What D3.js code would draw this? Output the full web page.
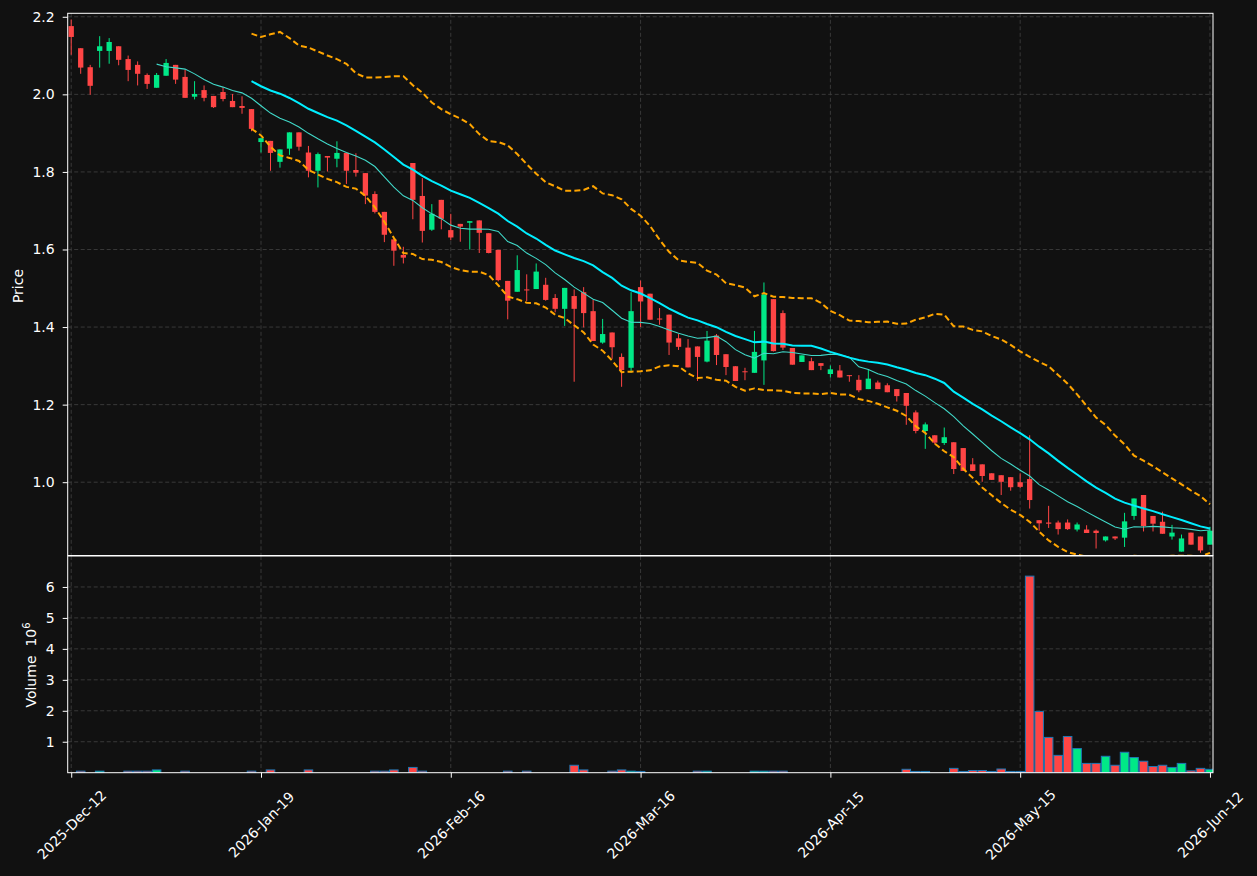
<!DOCTYPE html>
<html><head><meta charset="utf-8">
<script src="https://cdn.jsdelivr.net/npm/d3@7"></script>
<style>
html,body{margin:0;padding:0;background:#111111;}
svg{display:block;}
text{font-family:"DejaVu Sans",sans-serif;}
</style></head><body>
<svg id="chart" width="1257" height="876"></svg>
<script>
// ---- data ----
const openP = [2.176,2.119,2.070,2.112,2.112,2.124,2.091,2.076,2.050,2.017,2.048,2.076,2.045,1.994,2.011,1.996,2.006,1.983,1.970,1.962,
1.877,1.880,1.826,1.860,1.902,1.850,1.803,1.841,1.834,1.849,1.805,1.797,1.743,1.697,1.626,1.586,1.823,1.738,1.651,1.728,
1.650,1.666,1.669,1.675,1.642,1.599,1.519,1.491,1.497,1.498,1.509,1.475,1.447,1.480,1.490,1.441,1.360,1.386,1.323,1.295,
1.503,1.486,1.422,1.432,1.371,1.347,1.350,1.311,1.378,1.330,1.299,1.286,1.282,1.314,1.472,1.436,1.346,1.310,1.312,1.307,
1.279,1.288,1.276,1.264,1.240,1.257,1.250,1.240,1.230,1.180,1.132,1.121,1.101,1.103,1.088,1.046,1.046,1.023,1.018,1.013,
1.000,1.008,0.902,0.896,0.896,0.896,0.878,0.878,0.875,0.850,0.860,0.857,0.913,0.967,0.913,0.898,0.860,0.821,0.870,0.860,0.839];
const highP = [2.193,2.119,2.076,2.150,2.145,2.124,2.100,2.085,2.054,2.055,2.091,2.076,2.064,2.034,2.023,1.996,2.018,2.001,1.995,1.962,
1.887,1.880,1.858,1.902,1.902,1.867,1.850,1.841,1.879,1.849,1.848,1.797,1.750,1.697,1.626,1.607,1.823,1.784,1.717,1.728,
1.692,1.666,1.673,1.675,1.642,1.599,1.519,1.585,1.536,1.564,1.527,1.485,1.501,1.497,1.503,1.470,1.421,1.386,1.332,1.490,
1.520,1.486,1.449,1.432,1.382,1.369,1.350,1.390,1.382,1.330,1.299,1.295,1.390,1.515,1.472,1.443,1.346,1.327,1.321,1.307,
1.301,1.302,1.276,1.276,1.291,1.262,1.255,1.240,1.230,1.185,1.154,1.121,1.141,1.103,1.088,1.062,1.046,1.023,1.018,1.013,
1.023,1.121,0.902,0.939,0.901,0.904,0.896,0.889,0.878,0.860,0.860,0.921,0.958,0.967,0.913,0.924,0.890,0.865,0.870,0.860,0.885];
const lowP = [2.102,2.053,1.999,2.069,2.079,2.075,2.034,2.023,2.014,2.017,2.048,2.027,1.991,1.987,1.982,1.965,1.982,1.967,1.950,1.905,
1.850,1.803,1.811,1.844,1.855,1.786,1.760,1.801,1.812,1.769,1.788,1.717,1.693,1.619,1.558,1.564,1.678,1.618,1.648,1.652,
1.624,1.620,1.600,1.591,1.590,1.518,1.420,1.491,1.467,1.498,1.468,1.438,1.403,1.259,1.399,1.364,1.357,1.318,1.246,1.282,
1.400,1.419,1.406,1.328,1.341,1.296,1.261,1.309,1.302,1.276,1.261,1.263,1.282,1.251,1.337,1.341,1.303,1.310,1.289,1.289,
1.270,1.270,1.259,1.232,1.240,1.240,1.232,1.208,1.148,1.126,1.086,1.098,1.096,1.021,1.029,1.029,1.001,1.006,0.967,0.978,
0.985,0.932,0.875,0.882,0.865,0.877,0.873,0.869,0.829,0.847,0.851,0.833,0.903,0.873,0.873,0.867,0.852,0.821,0.839,0.818,0.839];
const closeP = [2.148,2.069,2.022,2.124,2.135,2.089,2.063,2.053,2.027,2.050,2.081,2.038,1.991,2.001,1.991,1.967,1.988,1.967,1.965,1.911,
1.887,1.849,1.858,1.902,1.865,1.803,1.846,1.837,1.849,1.803,1.798,1.739,1.697,1.638,1.597,1.579,1.728,1.648,1.692,1.679,
1.631,1.659,1.673,1.643,1.591,1.521,1.468,1.547,1.495,1.543,1.470,1.447,1.501,1.447,1.436,1.364,1.382,1.348,1.289,1.441,
1.466,1.419,1.420,1.360,1.349,1.296,1.323,1.365,1.328,1.297,1.261,1.285,1.336,1.484,1.338,1.347,1.303,1.327,1.289,1.300,
1.291,1.270,1.274,1.237,1.267,1.240,1.232,1.222,1.197,1.132,1.149,1.102,1.116,1.034,1.029,1.029,1.016,1.006,1.001,0.987,
0.988,0.954,0.894,0.893,0.879,0.879,0.891,0.869,0.869,0.860,0.855,0.899,0.958,0.887,0.893,0.867,0.870,0.855,0.839,0.824,0.875];
// volume in millions (null = no bar)
const volumeM = [0,0.05,0,0.05,0,0,0.05,0.05,0.05,0.09,0,null,0.05,0,0,0,0,0,0,0.05,
0,0.09,0,0,0,0.09,0,0,0,0,null,0,0.05,0.05,0.09,0,0.17,0.05,0,0,
0,null,0,0,0,0,0.05,0,0.05,0,0,0,0,0.24,0.09,0,0,0.05,0.09,0.05,
0.04,null,null,0,0,0,0.05,0.05,0,0,0,null,0.05,0.05,0.05,0.05,null,0,0,null,
0,0,0,0,0,0,0,0,0.11,0.04,0.04,0,0,0.14,0.04,0.07,0.07,0.04,0.12,0.04,
0.04,6.35,1.98,1.14,0.56,1.17,0.78,0.30,0.30,0.53,0.24,0.66,0.49,0.37,0.20,0.24,0.17,0.30,0.06,0.14,0.11];
const xTickIdx = [0,20,40,60,80,100,120];
const xTickLabels = ["2025-Dec-12","2026-Jan-19","2026-Feb-16","2026-Mar-16","2026-Apr-15","2026-May-15","2026-Jun-12"];
const priceTicks = [1.0,1.2,1.4,1.6,1.8,2.0,2.2];
const volTicks = [1,2,3,4,5,6];
const maShort = 10, maLong = 20;

// ---- layout ----
const W=1257,H=876;
const L=67.7, R=1213, pTop=13.3, pBot=555.5, vTop=556, vBot=772.7;
const upCol='#00e887', dnCol='#ff4545', edgeCol='#1f77b4';
const gridCol='#3d3d3d';
const svg=d3.select('#chart');
svg.append('rect').attr('width',W).attr('height',H).attr('fill','#111111');

const idx=d3.range(closeP.length);
const x=d3.scaleLinear().domain([-0.37,120.32]).range([L,R]);
const y=d3.scaleLinear().domain([0.811,2.209]).range([pBot,pTop]);
const yv=d3.scaleLinear().domain([0,7]).range([vBot,vTop]);
const step=x(1)-x(0);

const defs=svg.append('defs');
defs.append('clipPath').attr('id','cp').append('rect').attr('x',L).attr('y',pTop).attr('width',R-L).attr('height',pBot-pTop);
defs.append('clipPath').attr('id','cv').append('rect').attr('x',L).attr('y',vTop).attr('width',R-L).attr('height',vBot-vTop);

// grids
function grid(g, yScale, ticks, top, bot){
  g.selectAll('line.hg').data(ticks).join('line').attr('class','hg')
   .attr('x1',L).attr('x2',R).attr('y1',d=>yScale(d)).attr('y2',d=>yScale(d))
   .attr('stroke',gridCol).attr('stroke-width',0.9).attr('stroke-dasharray','4,2.5');
  g.selectAll('line.vg').data(xTickIdx).join('line').attr('class','vg')
   .attr('x1',d=>x(d)).attr('x2',d=>x(d)).attr('y1',top).attr('y2',bot)
   .attr('stroke',gridCol).attr('stroke-width',0.9).attr('stroke-dasharray','4,2.5');
}
grid(svg.append('g'), y, priceTicks, pTop, pBot);
grid(svg.append('g'), yv, volTicks, vTop, vBot);

// candles
const isUp=i=>closeP[i]>=openP[i];
const cg=svg.append('g').attr('clip-path','url(#cp)');
cg.selectAll('line').data(idx).join('line')
  .attr('x1',i=>x(i)).attr('x2',i=>x(i))
  .attr('y1',i=>y(highP[i])).attr('y2',i=>y(lowP[i]))
  .attr('stroke',i=>isUp(i)?upCol:dnCol).attr('stroke-width',1);
const bw=step*0.56;
cg.selectAll('rect').data(idx).join('rect')
  .attr('x',i=>x(i)-bw/2).attr('width',bw)
  .attr('y',i=>y(Math.max(openP[i],closeP[i])))
  .attr('height',i=>Math.max(1,Math.abs(y(openP[i])-y(closeP[i]))))
  .attr('fill',i=>isUp(i)?upCol:dnCol);

// moving averages & bands
function sma(n){return idx.map(i=>i<n-1?null:d3.mean(closeP.slice(i-n+1,i+1)));}
function sdev(n){return idx.map(i=>{if(i<n-1)return null;const s=closeP.slice(i-n+1,i+1);const m=d3.mean(s);return Math.sqrt(d3.mean(s,v=>(v-m)*(v-m)));});}
const ma10=sma(maShort), ma20=sma(maLong), sd20=sdev(maLong);
const upper=idx.map(i=>ma20[i]==null?null:ma20[i]+2*sd20[i]);
const lower=idx.map(i=>ma20[i]==null?null:ma20[i]-2*sd20[i]);
const lineOf=arr=>d3.line().defined(i=>arr[i]!=null).x(i=>x(i)).y(i=>y(arr[i]))(idx);
const lg=svg.append('g').attr('clip-path','url(#cp)');
lg.append('path').attr('d',lineOf(upper)).attr('fill','none').attr('stroke','#ffa500').attr('stroke-width',2).attr('stroke-dasharray','6,3.2');
lg.append('path').attr('d',lineOf(lower)).attr('fill','none').attr('stroke','#ffa500').attr('stroke-width',2).attr('stroke-dasharray','6,3.2');
lg.append('path').attr('d',lineOf(ma10)).attr('fill','none').attr('stroke','#40d8c8').attr('stroke-width',1.1);
lg.append('path').attr('d',lineOf(ma20)).attr('fill','none').attr('stroke','#00eeff').attr('stroke-width',2);

// volume
const vg=svg.append('g').attr('clip-path','url(#cv)');
const vIdx=idx.filter(i=>volumeM[i]!=null);
const vw=step*0.9;
vg.selectAll('rect').data(vIdx).join('rect')
  .attr('x',i=>x(i)-vw/2).attr('width',vw)
  .attr('y',i=>yv(volumeM[i])).attr('height',i=>yv(0)-yv(volumeM[i]))
  .attr('fill',i=>isUp(i)?upCol:dnCol).attr('stroke',edgeCol).attr('stroke-width',1);

// frames
svg.append('rect').attr('x',L).attr('y',pTop).attr('width',R-L).attr('height',pBot-pTop).attr('fill','none').attr('stroke','#ffffff').attr('stroke-width',1);
svg.append('rect').attr('x',L).attr('y',vTop).attr('width',R-L).attr('height',vBot-vTop).attr('fill','none').attr('stroke','#ffffff').attr('stroke-width',1);

// axes
function styleAxis(g){
  g.select('.domain').remove();
  g.selectAll('.tick line').attr('stroke','#ffffff').attr('stroke-width',1);
  g.selectAll('.tick text').attr('fill','#ffffff').attr('font-size',14).attr('font-family','DejaVu Sans, sans-serif');
}
svg.append('g').attr('transform',`translate(${L},0)`)
  .call(d3.axisLeft(y).tickValues(priceTicks).tickFormat(d3.format('.1f')).tickSize(5).tickPadding(8)).call(styleAxis);
svg.append('g').attr('transform',`translate(${L},0)`)
  .call(d3.axisLeft(yv).tickValues(volTicks).tickFormat(d3.format('d')).tickSize(5).tickPadding(8)).call(styleAxis);
const xa=svg.append('g').attr('transform',`translate(0,${vBot})`)
  .call(d3.axisBottom(x).tickValues(xTickIdx).tickFormat((d,i)=>xTickLabels[i]).tickSize(5)).call(styleAxis);
xa.selectAll('.tick text').attr('y',0).attr('dy','0.35em').attr('text-anchor','middle')
  .attr('transform','translate(0,52) rotate(-45)');

// axis titles
svg.append('text').attr('transform','translate(18.5,286) rotate(-90)').attr('text-anchor','middle').attr('dy','0.35em')
  .attr('fill','#ffffff').attr('font-size',14).text('Price');
const vt=svg.append('text').attr('transform','translate(31,665) rotate(-90)').attr('text-anchor','middle').attr('dy','0.35em')
  .attr('fill','#ffffff').attr('font-size',14).style('white-space','pre');
vt.append('tspan').text('Volume  10');
vt.append('tspan').attr('font-size',10).attr('dy','-0.6em').text('6');
</script></body></html>
